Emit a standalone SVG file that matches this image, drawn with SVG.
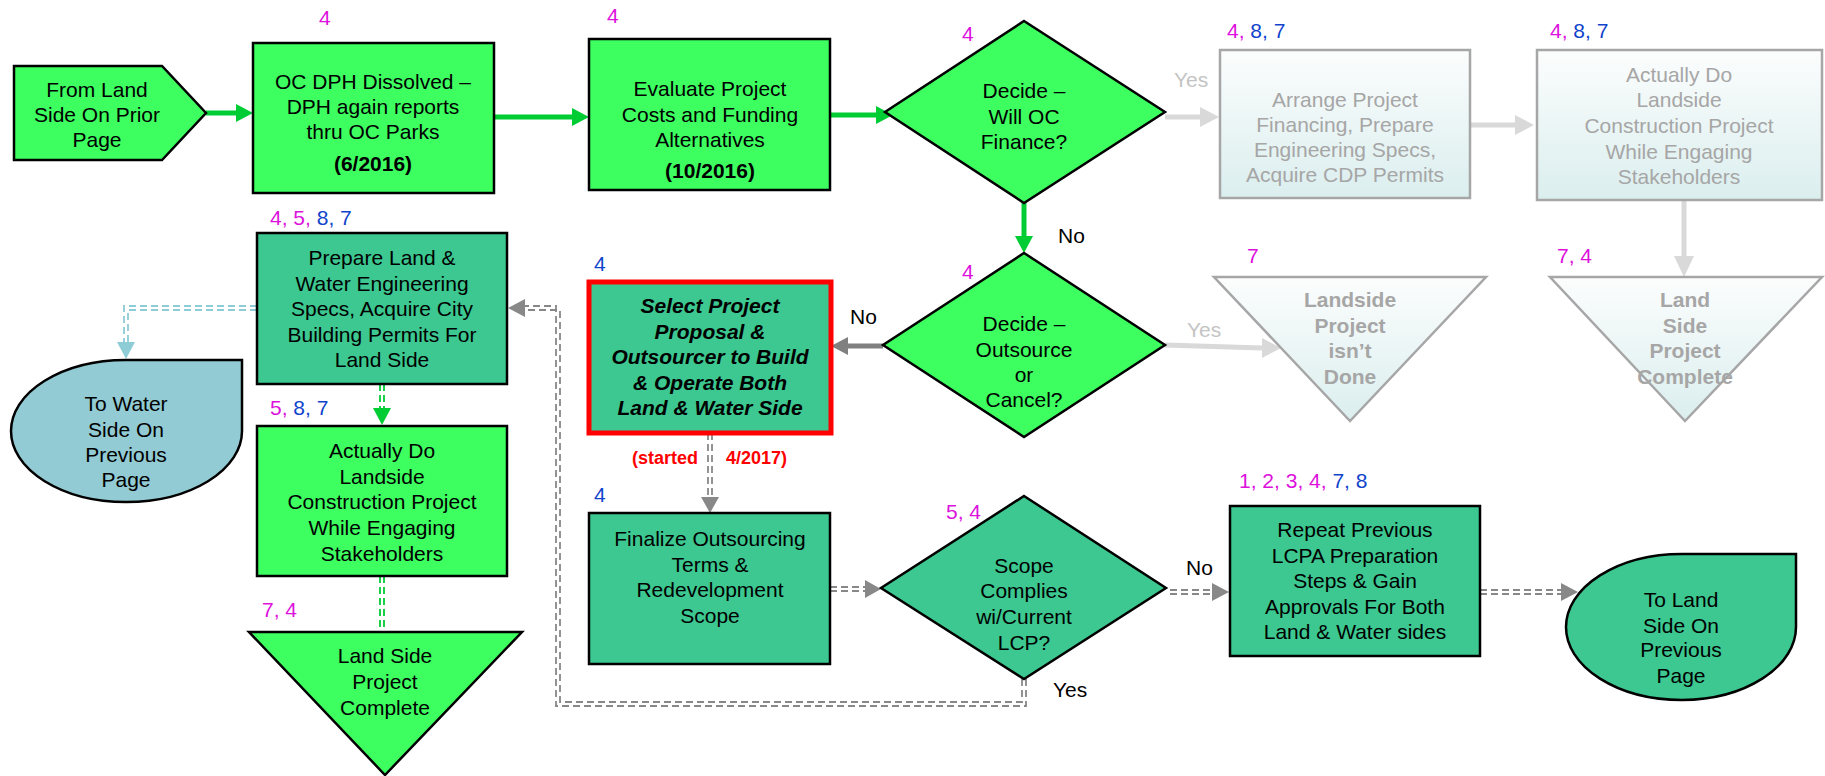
<svg xmlns="http://www.w3.org/2000/svg" width="1825" height="776" viewBox="0 0 1825 776">
<defs>
<linearGradient id="fade" x1="0" y1="0" x2="0" y2="1">
<stop offset="0" stop-color="#fcfdfd"/>
<stop offset="1" stop-color="#dbeeee"/>
</linearGradient>
<style>
text{font-family:"Liberation Sans",Arial,sans-serif;font-size:21px;fill:#000}
.c{text-anchor:middle}
.b{font-weight:bold}
.bi{font-weight:bold;font-style:italic}
.g{fill:#a6a6a6}
.lg{fill:#c4c4c4}
.m{fill:#dd11dd}
.u{fill:#1144cc}
.red{fill:#ff0000;font-size:18px;font-weight:bold}
.bright{fill:#3dff60;stroke:#000;stroke-width:2.5}
.mid{fill:#3cc890;stroke:#000;stroke-width:2.5}
.faded{fill:url(#fade);stroke:#a6a6a6;stroke-width:2.5}
.teal{fill:#92cbd3;stroke:#000;stroke-width:2.5}
.dg{fill:none;stroke:#888;stroke-width:1.8;stroke-dasharray:7 4}
.dgr{fill:none;stroke:#00cc33;stroke-width:1.8;stroke-dasharray:7 4}
.dt{fill:none;stroke:#8ecdd6;stroke-width:1.8;stroke-dasharray:7 4}
.sg{fill:none;stroke:#00cc33;stroke-width:5}
.sl{fill:none;stroke:#d9d9d9;stroke-width:5}
.sd{fill:none;stroke:#808080;stroke-width:5}
</style>
</defs>
<rect width="1825" height="776" fill="#fff"/>

<g id="connectors">
<!-- solid green -->
<line class="sg" x1="206" y1="113" x2="238" y2="113"/>
<polygon points="253,113 236,104 236,122" fill="#00cc33"/>
<line class="sg" x1="494" y1="117" x2="574" y2="117"/>
<polygon points="589,117 572,108 572,126" fill="#00cc33"/>
<line class="sg" x1="830" y1="115" x2="878" y2="115"/>
<polygon points="893,115 876,106 876,124" fill="#00cc33"/>
<line class="sg" x1="1024" y1="203" x2="1024" y2="238"/>
<polygon points="1024,253 1015,236 1033,236" fill="#00cc33"/>
<!-- light grey -->
<line class="sl" x1="1165" y1="117" x2="1202" y2="117"/>
<polygon points="1219,117 1200,107 1200,127" fill="#d9d9d9"/>
<line class="sl" x1="1470" y1="125" x2="1516" y2="125"/>
<polygon points="1534,125 1515,115 1515,135" fill="#d9d9d9"/>
<line class="sl" x1="1684" y1="200" x2="1684" y2="258"/>
<polygon points="1684,277 1674,256 1694,256" fill="#d9d9d9"/>
<line class="sl" x1="1165" y1="345" x2="1262" y2="348"/>
<polygon points="1281,348 1262,338 1262,358" fill="#d9d9d9"/>
<!-- dark grey solid -->
<line class="sd" x1="883" y1="346" x2="846" y2="346"/>
<polygon points="831,346 848,337 848,355" fill="#808080"/>
<!-- grey double dashed -->
<path class="dg" d="M708,433 V499 M712,433 V499"/>
<polygon points="710,513 701,497 719,497" fill="#888"/>
<path class="dg" d="M830,587 H866 M830,591 H866"/>
<polygon points="881,589 865,580 865,598" fill="#888"/>
<path class="dg" d="M1170,590 H1213 M1170,594 H1213"/>
<polygon points="1229,592 1212,583 1212,601" fill="#888"/>
<path class="dg" d="M1480,590 H1562 M1480,594 H1562"/>
<polygon points="1578,592 1561,583 1561,601" fill="#888"/>
<path class="dg" d="M1026,657 V706 H556 V306 H525 M1022,657 V702 H560 V310 H525"/>
<polygon points="508,308 525,299 525,317" fill="#888"/>
<!-- green double dashed -->
<path class="dgr" d="M380,384 V410 M384,384 V410"/>
<polygon points="382,425 373,408 391,408" fill="#00cc33"/>
<path class="dgr" d="M380,576 V635 M384,576 V635"/>
<polygon points="382,650 373,633 391,633" fill="#00cc33"/>
<!-- teal double dashed -->
<path class="dt" d="M257,306 H124 V344 M257,310 H128 V344"/>
<polygon points="126,359 117,342 135,342" fill="#8ecdd6"/>
</g>

<g id="n-from">
<polygon class="bright" points="14,66 162,66 206,113 162,160 14,160"/>
<text class="c" x="97" y="97">From Land</text>
<text class="c" x="97" y="122">Side On Prior</text>
<text class="c" x="97" y="147">Page</text>
</g>

<g id="n-dissolved">
<text class="m" x="319" y="25">4</text>
<rect class="bright" x="253" y="43" width="241" height="150"/>
<text class="c" x="373" y="89">OC DPH Dissolved –</text>
<text class="c" x="373" y="114">DPH again reports</text>
<text class="c" x="373" y="139">thru OC Parks</text>
<text class="c b" x="373" y="171">(6/2016)</text>
</g>

<g id="n-evaluate">
<text class="m" x="607" y="23">4</text>
<rect class="bright" x="589" y="39" width="241" height="151"/>
<text class="c" x="710" y="96">Evaluate Project</text>
<text class="c" x="710" y="122">Costs and Funding</text>
<text class="c" x="710" y="147">Alternatives</text>
<text class="c b" x="710" y="178">(10/2016)</text>
</g>

<g id="n-decide-finance">
<text class="m" x="962" y="41">4</text>
<polygon class="bright" points="1024,21 1165,112 1024,203 885,112"/>
<text class="c" x="1024" y="98">Decide –</text>
<text class="c" x="1024" y="124">Will OC</text>
<text class="c" x="1024" y="149">Finance?</text>
<text class="lg" x="1174" y="87">Yes</text>
<text x="1058" y="243">No</text>
</g>

<g id="n-arrange">
<text x="1227" y="38"><tspan class="m">4,</tspan><tspan class="u"> 8, 7</tspan></text>
<rect class="faded" x="1220" y="50" width="250" height="148"/>
<text class="c g" x="1345" y="107">Arrange Project</text>
<text class="c g" x="1345" y="132">Financing, Prepare</text>
<text class="c g" x="1345" y="157">Engineering Specs,</text>
<text class="c g" x="1345" y="182">Acquire CDP Permits</text>
</g>

<g id="n-construct-faded">
<text x="1550" y="38"><tspan class="m">4,</tspan><tspan class="u"> 8, 7</tspan></text>
<rect class="faded" x="1537" y="50" width="285" height="150"/>
<text class="c g" x="1679" y="82">Actually Do</text>
<text class="c g" x="1679" y="107">Landside</text>
<text class="c g" x="1679" y="133">Construction Project</text>
<text class="c g" x="1679" y="159">While Engaging</text>
<text class="c g" x="1679" y="184">Stakeholders</text>
</g>

<g id="n-decide-outsource">
<text class="m" x="962" y="279">4</text>
<polygon class="bright" points="1024,253 1165,345 1024,437 883,345"/>
<text class="c" x="1024" y="331">Decide –</text>
<text class="c" x="1024" y="357">Outsource</text>
<text class="c" x="1024" y="382">or</text>
<text class="c" x="1024" y="407">Cancel?</text>
<text class="lg" x="1187" y="337">Yes</text>
<text x="850" y="324">No</text>
</g>

<g id="n-not-done">
<text class="m" x="1247" y="263">7</text>
<polygon class="faded" points="1214,277 1486,277 1350,421"/>
<text class="c b g" x="1350" y="307">Landside</text>
<text class="c b g" x="1350" y="333">Project</text>
<text class="c b g" x="1350" y="358">isn’t</text>
<text class="c b g" x="1350" y="384">Done</text>
</g>

<g id="n-complete-faded">
<text class="m" x="1557" y="263">7, 4</text>
<polygon class="faded" points="1550,277 1822,277 1685,421"/>
<text class="c b g" x="1685" y="307">Land</text>
<text class="c b g" x="1685" y="333">Side</text>
<text class="c b g" x="1685" y="358">Project</text>
<text class="c b g" x="1685" y="384">Complete</text>
</g>

<g id="n-prepare">
<text x="270" y="225"><tspan class="m">4, 5,</tspan><tspan class="u"> 8, 7</tspan></text>
<rect class="mid" x="257" y="233" width="250" height="151"/>
<text class="c" x="382" y="265">Prepare Land &amp;</text>
<text class="c" x="382" y="291">Water Engineering</text>
<text class="c" x="382" y="316">Specs, Acquire City</text>
<text class="c" x="382" y="342">Building Permits For</text>
<text class="c" x="382" y="367">Land Side</text>
</g>

<g id="n-to-water">
<path class="teal" d="M126,360 H242 V431 A116,71 0 0 1 126,502 A115,71 0 0 1 11,431 A115,71 0 0 1 126,360 Z"/>
<text class="c" x="126" y="411">To Water</text>
<text class="c" x="126" y="437">Side On</text>
<text class="c" x="126" y="462">Previous</text>
<text class="c" x="126" y="487">Page</text>
</g>

<g id="n-construct">
<text x="270" y="415"><tspan class="m">5,</tspan><tspan class="u"> 8, 7</tspan></text>
<rect class="bright" x="257" y="426" width="250" height="150"/>
<text class="c" x="382" y="458">Actually Do</text>
<text class="c" x="382" y="484">Landside</text>
<text class="c" x="382" y="509">Construction Project</text>
<text class="c" x="382" y="535">While Engaging</text>
<text class="c" x="382" y="561">Stakeholders</text>
</g>

<g id="n-complete">
<text class="m" x="262" y="617">7, 4</text>
<polygon class="bright" points="249,632 522,632 385,775"/>
<text class="c" x="385" y="663">Land Side</text>
<text class="c" x="385" y="689">Project</text>
<text class="c" x="385" y="715">Complete</text>
</g>

<g id="n-select">
<text class="u" x="594" y="271">4</text>
<rect x="589" y="282" width="242" height="151" fill="#3cc890" stroke="#ff0000" stroke-width="5"/>
<text class="c bi" x="710" y="313">Select Project</text>
<text class="c bi" x="710" y="339">Proposal &amp;</text>
<text class="c bi" x="710" y="364">Outsourcer to Build</text>
<text class="c bi" x="710" y="390">&amp; Operate Both</text>
<text class="c bi" x="710" y="415">Land &amp; Water Side</text>
<text class="red" x="632" y="464">(started</text>
<text class="red" x="726" y="464">4/2017)</text>
</g>

<g id="n-finalize">
<text class="u" x="594" y="502">4</text>
<rect class="mid" x="589" y="513" width="241" height="151"/>
<text class="c" x="710" y="546">Finalize Outsourcing</text>
<text class="c" x="710" y="572">Terms &amp;</text>
<text class="c" x="710" y="597">Redevelopment</text>
<text class="c" x="710" y="623">Scope</text>
</g>

<g id="n-scope">
<text class="m" x="946" y="519">5, 4</text>
<polygon class="mid" points="1024,496 1166,588 1024,679 881,588"/>
<text class="c" x="1024" y="573">Scope</text>
<text class="c" x="1024" y="598">Complies</text>
<text class="c" x="1024" y="624">wi/Current</text>
<text class="c" x="1024" y="650">LCP?</text>
<text x="1186" y="575">No</text>
<text x="1053" y="697">Yes</text>
</g>

<g id="n-repeat">
<text x="1239" y="488"><tspan class="m">1, 2, 3, 4,</tspan><tspan class="u"> 7, 8</tspan></text>
<rect class="mid" x="1230" y="506" width="250" height="150"/>
<text class="c" x="1355" y="537">Repeat Previous</text>
<text class="c" x="1355" y="563">LCPA Preparation</text>
<text class="c" x="1355" y="588">Steps &amp; Gain</text>
<text class="c" x="1355" y="614">Approvals For Both</text>
<text class="c" x="1355" y="639">Land &amp; Water sides</text>
</g>

<g id="n-to-land">
<path class="mid" d="M1682,554 H1796 V627 A115,73 0 0 1 1682,700 A116,73 0 0 1 1566,627 A116,73 0 0 1 1682,554 Z"/>
<text class="c" x="1681" y="607">To Land</text>
<text class="c" x="1681" y="633">Side On</text>
<text class="c" x="1681" y="657">Previous</text>
<text class="c" x="1681" y="683">Page</text>
</g>
</svg>
